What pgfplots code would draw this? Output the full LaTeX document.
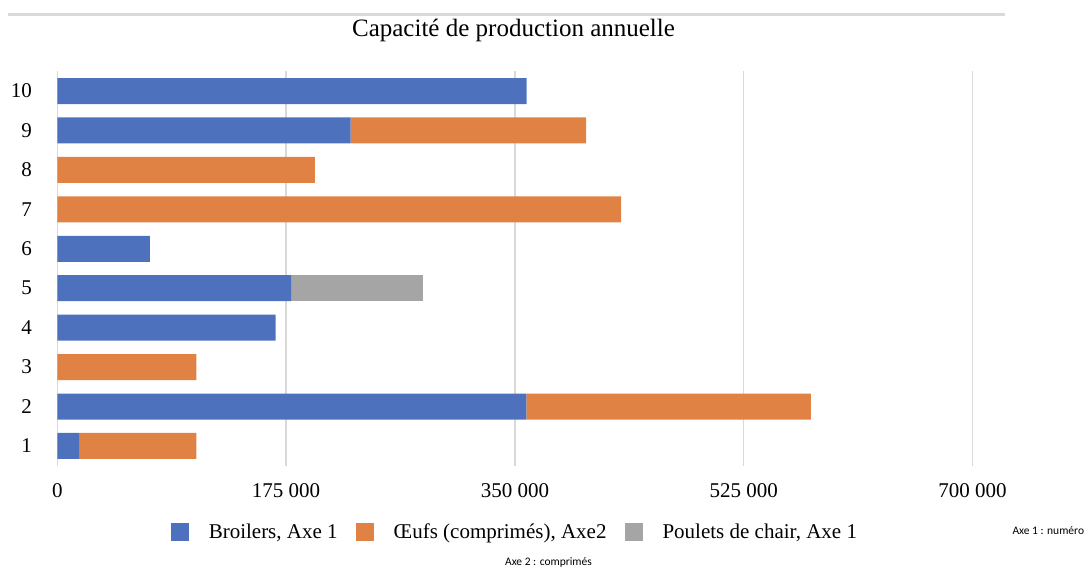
\documentclass[border=0pt]{standalone}
\usepackage{fontspec}
\setmainfont{Liberation Serif}
\newfontfamily\notefont{Carlito}
\usepackage{pgfplots}
\usepackage{pgfplotstable}
\pgfplotsset{compat=1.18}

\definecolor{broiler}{HTML}{4E71BE}
\definecolor{oeuf}{HTML}{DF8244}
\definecolor{poulet}{HTML}{A5A5A5}
\definecolor{gridgray}{HTML}{D9D9D9}

% capacité annuelle par numéro
\pgfplotstableread{
cat broilers oeufs poulets
1  17100  89200  0
2  358700 217600 0
3  0      106300 0
4  167000 0      0
5  178800 0      100900
6  70900  0      0
7  0      431200 0
8  0      197100 0
9  224400 180000 0
10 359000 0      0
}\capdata

\begin{document}
\begin{tikzpicture}[x=1pt,y=1pt]
\useasboundingbox (0,0) rectangle (1087,568);
\draw[gridgray, line width=2.5pt] (8,553.5) -- (1005,553.5);
\node[font=\fontsize{25}{30}\selectfont] at (513.5,538) {Capacité de production annuelle};
\node[font=\notefont\fontsize{11.5}{14}\selectfont, anchor=west] at (1009,37) {Axe 1 : numéro};
\node[font=\notefont\fontsize{11.5}{14}\selectfont] at (548.5,6) {Axe 2 : comprimés};
\begin{axis}[
    at={(57.3pt,102.3pt)}, anchor=south west,
    width=915.2pt, height=394.4pt, scale only axis,
    xbar stacked, bar width=26pt,
    xmin=0, xmax=700000, ymin=0.5, ymax=10.5,
    xtick={0,175000,350000,525000,700000},
    xticklabels={0,175 000,350 000,525 000,700 000},
    ytick={1,2,3,4,5,6,7,8,9,10},
    scaled x ticks=false,
    /pgf/number format/assume math mode=true,
    tick label style={font=\fontsize{21}{25}\selectfont},
    major tick length=0pt,
    xmajorgrids, grid style={gridgray, line width=1.5pt},
    axis lines*=left,
    x axis line style={draw=none},
    y axis line style={gridgray, line width=1.5pt, -},
    yticklabel style={anchor=east, xshift=-22pt},
    xticklabel style={anchor=center, yshift=-25pt},
    legend style={at={(0.5,-0.168)}, anchor=center, draw=none,
        legend columns=3, font=\fontsize{21}{25}\selectfont,
        /tikz/every odd column/.append style={column sep=18pt},
        /tikz/every even column/.append style={column sep=16pt}},
    legend image code/.code={\fill[#1] (0pt,-9pt) rectangle (18pt,9pt);},
]
\addplot[fill=broiler, draw=none] table[x=broilers, y=cat]{\capdata};
\addlegendentry{Broilers, Axe 1}
\addplot[fill=oeuf, draw=none] table[x=oeufs, y=cat]{\capdata};
\addlegendentry{Œufs (comprimés), Axe2}
\addplot[fill=poulet, draw=none] table[x=poulets, y=cat]{\capdata};
\addlegendentry{Poulets de chair, Axe 1}
\end{axis}
\end{tikzpicture}
\end{document}
